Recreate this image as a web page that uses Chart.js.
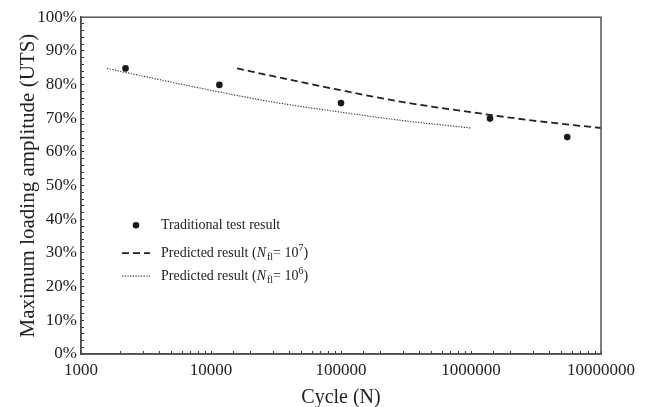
<!DOCTYPE html>
<html>
<head>
<meta charset="utf-8">
<script src="https://cdn.jsdelivr.net/npm/chart.js@4"></script>
<style>
  html, body { margin: 0; padding: 0; background: #fff; }
  #chart { display: block; }
</style>
</head>
<body>
<canvas id="chart" width="667" height="407"></canvas>
<script>
"use strict";

// test results
const testCycles = [2200, 11600, 100000, 1400000, 5500000];
const testAmp = [84.8, 79.9, 74.5, 69.9, 64.4];

// predicted, N_fl = 10^7
const pred7Cycles = [15850, 30000, 100000, 300000, 1000000, 3000000, 10000000];
const pred7Amp = [84.8, 82.5, 78.3, 74.8, 71.8, 69.3, 67.1];

// predicted, N_fl = 10^6
const pred6Cycles = [1585, 3000, 10000, 30000, 100000, 300000, 1000000];
const pred6Amp = [84.8, 82.5, 78.3, 74.8, 71.8, 69.3, 67.1];

const xTickLabels = [1000, 10000, 100000, 1000000, 10000000];
const yTickLabels = [0, 10, 20, 30, 40, 50, 60, 70, 80, 90, 100];

// legend texts, split so N can be italic and fl / 7 set small
const legendTexts = [
  [['Traditional test result', 'n']],
  [['Predicted result (', 'n'], ['N', 'i'], ['fl', 'sub'], ['= 10', 'n'], ['7', 'sup'], [')', 'n']],
  [['Predicted result (', 'n'], ['N', 'i'], ['fl', 'sub'], ['= 10', 'n'], ['6', 'sup'], [')', 'n']]
];

const FONT = "'Liberation Serif', 'Times New Roman', serif";
const ink = '#222';

const toPoints = (xs, ys) => xs.map((x, i) => ({ x: x, y: ys[i] }));

const frame = {
  id: 'frame',
  afterDraw(chart) {
    const c = chart.ctx, a = chart.chartArea;
    c.save();
    c.strokeStyle = '#555';
    c.lineWidth = 1.5;
    c.strokeRect(a.left, a.top, a.right - a.left, a.bottom - a.top);
    c.restore();
  }
};

const legendBox = {
  id: 'legendBox',
  afterDraw(chart) {
    const c = chart.ctx, a = chart.chartArea;
    const x0 = a.left + 41, xt = a.left + 80;
    const rows = [a.top + 208, a.top + 236, a.top + 259];
    c.save();
    chart.data.datasets.forEach((ds, i) => {
      const y = rows[i];
      c.strokeStyle = ds.borderColor;
      c.fillStyle = ds.backgroundColor;
      if (ds.showLine) {
        c.lineWidth = ds.borderWidth;
        c.setLineDash(ds.borderDash);
        c.beginPath();
        c.moveTo(x0, y);
        c.lineTo(x0 + 28, y);
        c.stroke();
        c.setLineDash([]);
      } else {
        c.beginPath();
        c.arc(x0 + 14, y, ds.pointRadius, 0, Math.PI * 2);
        c.fill();
      }
      let x = xt;
      c.fillStyle = ink;
      c.textBaseline = 'middle';
      legendTexts[i].forEach(([t, s]) => {
        let dy = 0;
        if (s === 'i') c.font = 'italic 14px ' + FONT;
        else if (s === 'sub') { c.font = '10px ' + FONT; dy = 4; }
        else if (s === 'sup') { c.font = '10px ' + FONT; dy = -5; }
        else c.font = '14px ' + FONT;
        c.fillText(t, x, y + dy);
        x += c.measureText(t).width + (s === 'i' ? 1 : 0);
      });
    });
    c.restore();
  }
};

new Chart(document.getElementById('chart'), {
  type: 'scatter',
  data: {
    datasets: [
      {
        label: 'Traditional test result',
        data: toPoints(testCycles, testAmp),
        backgroundColor: '#1a1a1a',
        borderColor: '#1a1a1a',
        pointRadius: 3.3,
        borderWidth: 0,
        showLine: false
      },
      {
        label: 'Predicted result (Nfl= 10^7)',
        data: toPoints(pred7Cycles, pred7Amp),
        showLine: true,
        borderColor: '#222',
        backgroundColor: '#222',
        borderWidth: 1.8,
        borderDash: [7, 4],
        pointRadius: 0,
        cubicInterpolationMode: 'monotone'
      },
      {
        label: 'Predicted result (Nfl= 10^6)',
        data: toPoints(pred6Cycles, pred6Amp),
        showLine: true,
        borderColor: '#333',
        backgroundColor: '#333',
        borderWidth: 1.2,
        borderDash: [1.2, 1.5],
        pointRadius: 0,
        cubicInterpolationMode: 'monotone'
      }
    ]
  },
  options: {
    responsive: false,
    animation: false,
    layout: { padding: { top: 16, right: 66, left: 0, bottom: 0 } },
    plugins: {
      legend: { display: false },
      tooltip: { enabled: false }
    },
    scales: {
      x: {
        type: 'logarithmic',
        min: 1000,
        max: 10000000,
        afterFit(scale) { scale.height = 53; },
        grid: { drawOnChartArea: false, tickLength: -3, color: '#333', lineWidth: 1 },
        border: { color: '#333', width: 1.5 },
        ticks: {
          autoSkip: false,
          maxRotation: 0,
          padding: 9,
          color: ink,
          font: { family: FONT, size: 17 },
          callback: (v) => xTickLabels.includes(v) ? String(v) : ''
        },
        title: {
          display: true,
          text: 'Cycle (N)',
          color: ink,
          font: { family: FONT, size: 20, lineHeight: 1 },
          padding: { top: 0, bottom: -1 }
        }
      },
      y: {
        min: 0,
        max: 100,
        afterFit(scale) { scale.width = 81; },
        grid: { drawOnChartArea: false, tickLength: -3, color: '#333', lineWidth: 1 },
        border: { color: '#333', width: 1.5 },
        ticks: {
          stepSize: 2,
          autoSkip: false,
          padding: 7,
          color: ink,
          font: { family: FONT, size: 17 },
          callback: (v) => yTickLabels.includes(v) ? v + '%' : ''
        },
        title: {
          display: true,
          text: 'Maximum loading amplitude (UTS)',
          color: ink,
          font: { family: FONT, size: 21, lineHeight: 1.2 },
          padding: { top: 16, bottom: 0 }
        }
      }
    }
  },
  plugins: [frame, legendBox]
});
</script>
</body>
</html>
